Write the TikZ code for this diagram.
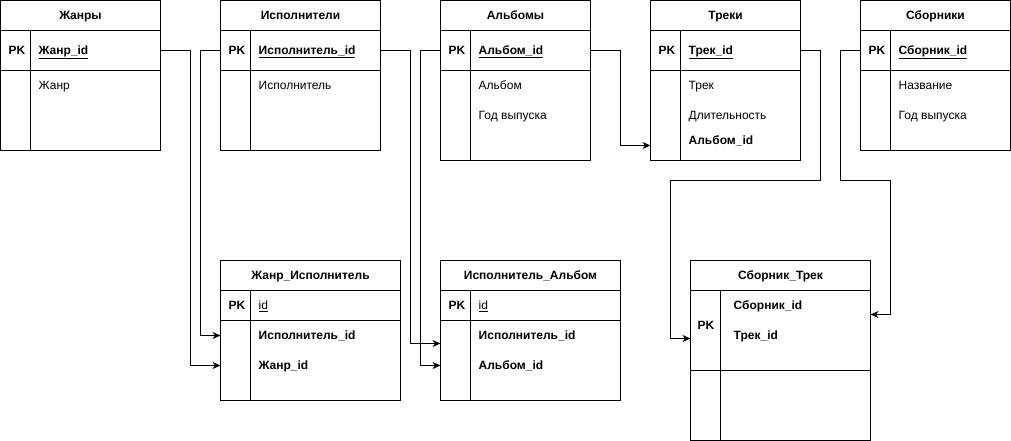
\documentclass[tikz,border=0pt]{standalone}
\usepackage{fontspec}
\setmainfont{Liberation Sans}
\usetikzlibrary{arrows.meta}

\tikzset{
  tbl/.style={line width=1pt},
  keyrow/.style={draw, line width=1pt, inner sep=0pt, outer sep=0pt},
  ttl/.style={anchor=base, inner sep=0pt, font=\fontsize{12}{14}\selectfont\bfseries},
  fld/.style={anchor=base west, inner sep=0pt},
  link/.style={line width=1pt, -{Stealth[length=8pt,width=7pt,inset=2.5pt]}},
}

% #1 name, #2 x, #3 y, #4 width, #5 height, #6 title, #7 key row height
\newcommand\ertable[7]{%
  \draw[tbl] (#2,#3) rectangle ++(#4,#5);
  \draw[tbl] (#2+30,#3+30) -- (#2+30,#3+#5);
  \node[keyrow, minimum width=#4pt, minimum height=#7pt] (#1-pk) at (#2+#4/2,#3+30+#7/2) {};
  \node[ttl] (#1) at (#2+#4/2,#3+19) {#6};
}

\begin{document}
\begin{tikzpicture}[x=1pt, y=-1pt, font=\fontsize{12}{14}\selectfont]
  \useasboundingbox (-0.5,-0.5) rectangle (1010.5,440.5);

  \ertable{genres}{0}{0}{160}{150}{Жанры}{40}
  \node[fld] (genres-k) at (8,54) {\textbf{PK}};
  \node[fld] (genres-id) at (38,54) {\underline{\textbf{Жанр\_id}}};
  \node[fld] (genres-f1) at (38,89) {Жанр};

  \ertable{artists}{220}{0}{160}{150}{Исполнители}{40}
  \node[fld] (artists-k) at (228,54) {\textbf{PK}};
  \node[fld] (artists-id) at (258,54) {\underline{\textbf{Исполнитель\_id}}};
  \node[fld] (artists-f1) at (258,89) {Исполнитель};

  \ertable{albums}{440}{0}{150}{160}{Альбомы}{40}
  \node[fld] (albums-k) at (448,54) {\textbf{PK}};
  \node[fld] (albums-id) at (478,54) {\underline{\textbf{Альбом\_id}}};
  \node[fld] (albums-f1) at (478,89) {Альбом};
  \node[fld] (albums-f2) at (478,119) {Год выпуска};

  \ertable{tracks}{650}{0}{150}{160}{Треки}{40}
  \node[fld] (tracks-k) at (658,54) {\textbf{PK}};
  \node[fld] (tracks-id) at (688,54) {\underline{\textbf{Трек\_id}}};
  \node[fld] (tracks-f1) at (688,89) {Трек};
  \node[fld] (tracks-f2) at (688,119) {Длительность};
  \node[fld] (tracks-f3) at (688,144) {\textbf{Альбом\_id}};

  \ertable{colls}{860}{0}{150}{150}{Сборники}{40}
  \node[fld] (colls-k) at (868,54) {\textbf{PK}};
  \node[fld] (colls-id) at (898,54) {\underline{\textbf{Сборник\_id}}};
  \node[fld] (colls-f1) at (898,89) {Название};
  \node[fld] (colls-f2) at (898,119) {Год выпуска};

  \ertable{ga}{220}{260}{180}{140}{Жанр\_Исполнитель}{30}
  \node[fld] (ga-k) at (228,309) {\textbf{PK}};
  \node[fld] (ga-id) at (258,309) {\underline{id}};
  \node[fld] (ga-f1) at (258,339) {\textbf{Исполнитель\_id}};
  \node[fld] (ga-f2) at (258,369) {\textbf{Жанр\_id}};

  \ertable{aa}{440}{260}{180}{140}{Исполнитель\_Альбом}{30}
  \node[fld] (aa-k) at (448,309) {\textbf{PK}};
  \node[fld] (aa-id) at (478,309) {\underline{id}};
  \node[fld] (aa-f1) at (478,339) {\textbf{Исполнитель\_id}};
  \node[fld] (aa-f2) at (478,369) {\textbf{Альбом\_id}};

  \ertable{ct}{690}{260}{180}{180}{Сборник\_Трек}{80}
  \node[fld] (ct-k) at (697,329) {\textbf{PK}};
  \node[fld] (ct-f1) at (733,309) {\textbf{Сборник\_id}};
  \node[fld] (ct-f2) at (733,339) {\textbf{Трек\_id}};

  % arrow ends on the table borders
  \coordinate (ga-in1) at (220,335);
  \coordinate (ga-in2) at (220,365);
  \coordinate (aa-in1) at (440,343);
  \coordinate (aa-in2) at (440,365);
  \coordinate (tracks-in) at (650,145);
  \coordinate (ct-in1) at (690,338);
  \coordinate (ct-in2) at (870,314);

  \draw[link] (genres-pk.east) -- ++(30,0) |- (ga-in2);
  \draw[link] (artists-pk.west) -- ++(-20,0) |- (ga-in1);
  \draw[link] (artists-pk.east) -- ++(30,0) |- (aa-in1);
  \draw[link] (albums-pk.west) -- ++(-20,0) |- (aa-in2);
  \draw[link] (albums-pk.east) -- ++(30,0) |- (tracks-in);
  \draw[link] (tracks-pk.east) -- ++(20,0) -- ++(0,130) -- ++(-150,0) |- (ct-in1);
  \draw[link] (colls-pk.west) -- ++(-20,0) -- ++(0,130) -- ++(50,0) |- (ct-in2);
\end{tikzpicture}
\end{document}
